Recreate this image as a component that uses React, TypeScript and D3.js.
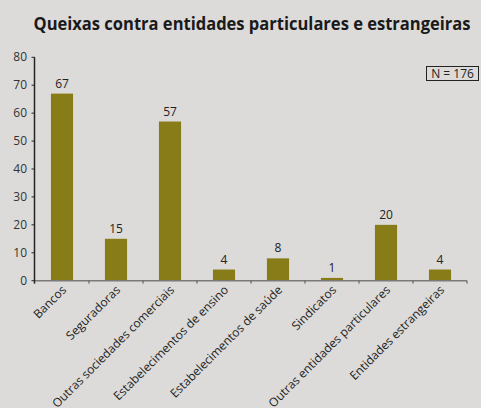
import React from "react";
import * as d3 from "d3";

const categories = [
  "Bancos",
  "Seguradoras",
  "Outras sociedades comerciais",
  "Estabelecimentos de ensino",
  "Estabelecimentos de saúde",
  "Sindicatos",
  "Outras entidades particulares",
  "Entidades estrangeiras",
];
const values = [67, 15, 57, 4, 8, 1, 20, 4];
const yTicks = [0, 10, 20, 30, 40, 50, 60, 70, 80];
const title = "Queixas contra entidades particulares e estrangeiras";
const note = "N = 176";

export default function App() {
  const W = 481, H = 408;
  const x0 = 35, x1 = 467, yTop = 57.3, yBot = 280.7;
  const x = d3.scaleBand<string>().domain(categories).range([x0, x1]).paddingInner(0.59).paddingOuter(0.295);
  const band = d3.scaleBand<string>().domain(categories).range([x0, x1]);
  const y = d3.scaleLinear().domain([0, 80]).range([yBot, yTop]);
  const font = "'Open Sans', 'DejaVu Sans', sans-serif";
  return (
    <svg width={W} height={H} style={{ position: "absolute", left: 0, top: 0, display: "block" }}>
      <rect width={W} height={H} fill="#dcdbd9" />
      <text x={252} y={30} textAnchor="middle" fontFamily={font} fontWeight="bold" fontSize={17.5} fill="#1a1a1a" textLength={437} lengthAdjust="spacingAndGlyphs">
        {title}
      </text>
      {values.map((v, i) => (
        <g key={i}>
          <rect x={x(categories[i])} y={y(v)} width={x.bandwidth()} height={yBot - y(v)} fill="#877c17" />
          <text x={(x(categories[i]) as number) + x.bandwidth() / 2} y={y(v) - 6} textAnchor="middle" fontFamily={font} fontSize={12} fill="#222">
            {v}
          </text>
        </g>
      ))}
      <line x1={x0} x2={x1} y1={yBot} y2={yBot} stroke="#7a7a78" strokeWidth={1.5} />
      {categories.map((c, i) => (
        <line key={"t" + i} x1={(band(c) as number) + band.bandwidth()} x2={(band(c) as number) + band.bandwidth()} y1={yBot} y2={yBot + 3} stroke="#555" strokeWidth={1} />
      ))}
      <line x1={x0 - 0.5} x2={x0 - 0.5} y1={yTop} y2={yBot + 3} stroke="#2a2420" strokeWidth={1.5} />
      {yTicks.map((t) => (
        <g key={"y" + t}>
          <line x1={x0 - 3.5} x2={x0} y1={y(t)} y2={y(t)} stroke="#2a2420" strokeWidth={1} />
          <text x={27} y={y(t) + 4} textAnchor="end" fontFamily={font} fontSize={12} fill="#333">
            {t}
          </text>
        </g>
      ))}
      {categories.map((c, i) => {
        const cx = (band(c) as number) + band.bandwidth() / 2 + 5;
        const cy = yBot + 10;
        return (
          <text key={"l" + i} transform={`translate(${cx},${cy}) rotate(-45)`} textAnchor="end" fontFamily={font} fontSize={12} fill="#222">
            {c}
          </text>
        );
      })}
      <rect x={426.5} y={66.5} width={52} height={14} fill="none" stroke="#222" strokeWidth={1} />
      <text x={452.5} y={78} textAnchor="middle" fontFamily={font} fontSize={12} fill="#222">
        {note}
      </text>
    </svg>
  );
}
